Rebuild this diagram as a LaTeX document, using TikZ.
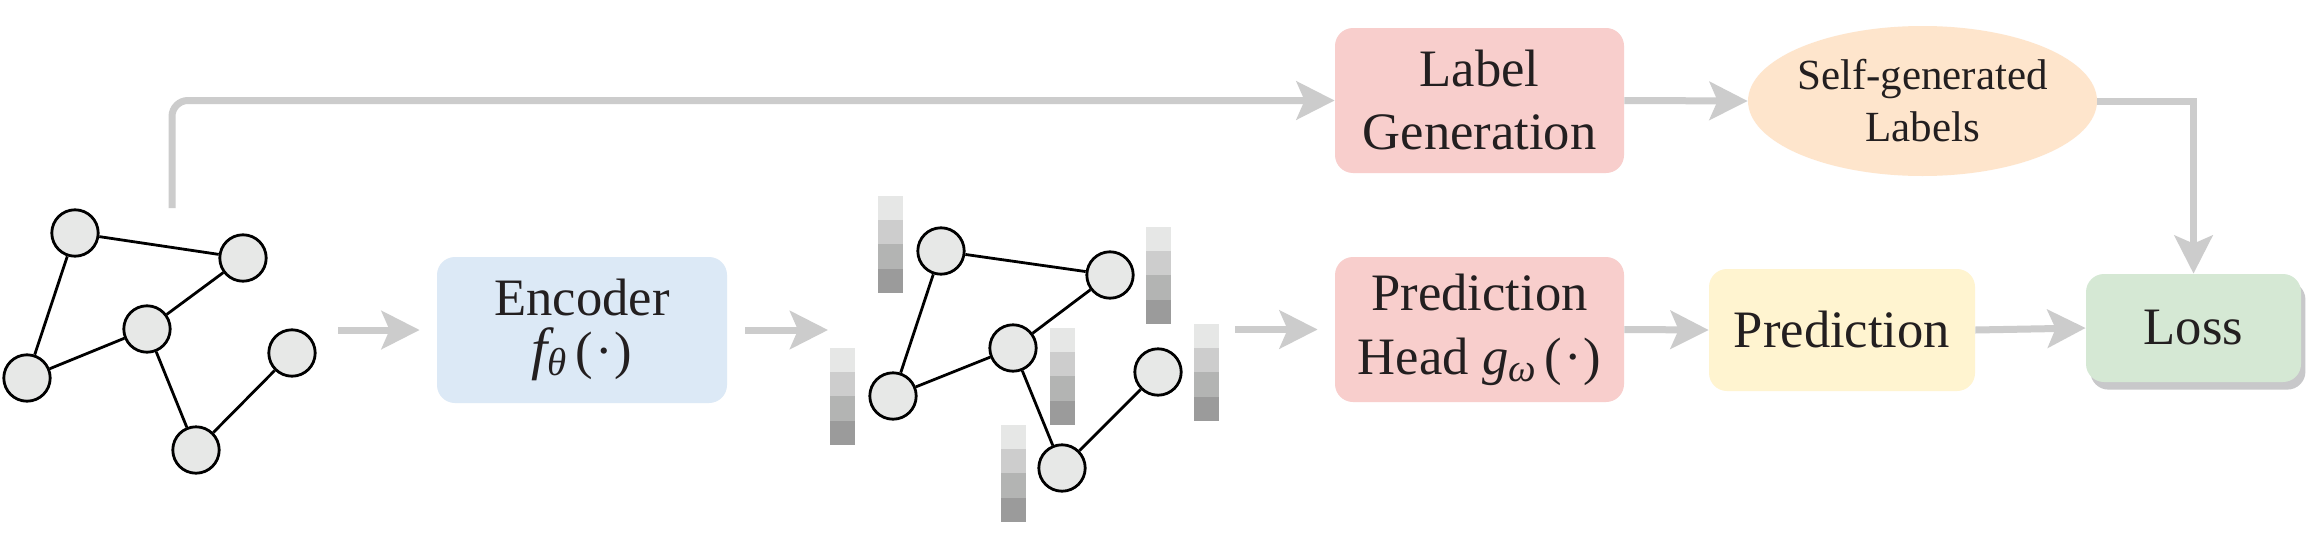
\documentclass[tikz,border=0pt]{standalone}
\usepackage{fontspec}
\setmainfont{Liberation Serif}
\usetikzlibrary{arrows.meta,shapes.geometric,shadows}
\definecolor{flowgray}{HTML}{CCCCCC}
\definecolor{encblue}{HTML}{DCE9F6}
\definecolor{boxpink}{HTML}{F8CECC}
\definecolor{ellorange}{HTML}{FEE5CC}
\definecolor{predyellow}{HTML}{FFF4D0}
\definecolor{lossgreen}{HTML}{D5E8D4}
\definecolor{shadowgray}{HTML}{C8C8CA}
\definecolor{nodegray}{HTML}{E7E8E7}
\definecolor{txt}{HTML}{231F20}
\definecolor{fbA}{HTML}{E6E7E6}
\definecolor{fbB}{HTML}{CDCDCD}
\definecolor{fbC}{HTML}{B3B4B3}
\definecolor{fbD}{HTML}{9B9B9B}
\newcommand{\gsub}[1]{\raisebox{-0.3ex}{\fontsize{19.5}{19.5}\selectfont\itshape #1}}
\newcommand{\featbar}[2]{%
  \fill[fbA] (#1,#2) rectangle ++(25,24.2);
  \fill[fbB] (#1,#2+24.2) rectangle ++(25,24.2);
  \fill[fbC] (#1,#2+48.4) rectangle ++(25,24.2);
  \fill[fbD] (#1,#2+72.6) rectangle ++(25,24.2);}
\tikzset{
  flow/.style={draw=flowgray, line width=3.5pt, -{Stealth[length=19pt,width=19pt,inset=4pt]}},
  procbox/.style={rounded corners=9pt, inner sep=0pt, align=center, text=txt,
    font=\fontsize{26.3}{31.5}\selectfont},
  gnode/.style={circle, draw=black, fill=nodegray, line width=1.4pt, minimum size=23.2pt, inner sep=0pt},
  gedge/.style={draw=black, line width=1.4pt},
}
\begin{document}
\begin{tikzpicture}[x=0.5pt,y=-0.5pt]
\useasboundingbox (0,0) rectangle (2310,546);
\fill[white] (0,0) rectangle (2310,546);

% input graph
\node[gnode] (ga) at (75,233) {};
\node[gnode] (gb) at (243,258) {};
\node[gnode] (gc) at (147,329) {};
\node[gnode] (gd) at (27,378) {};
\node[gnode] (ge) at (292,353) {};
\node[gnode] (gf) at (196,450) {};
\draw[gedge] (ga) -- (gb);
\draw[gedge] (ga) -- (gd);
\draw[gedge] (gb) -- (gc);
\draw[gedge] (gc) -- (gd);
\draw[gedge] (gc) -- (gf);
\draw[gedge] (gf) -- (ge);

% feature bars
\featbar{878}{196}
\featbar{1146}{227}
\featbar{1050}{328}
\featbar{1194}{324}
\featbar{830}{348}
\featbar{1001}{425}

% embedded graph
\node[gnode] (ha) at (941,251) {};
\node[gnode] (hb) at (1110,275) {};
\node[gnode] (hc) at (1013,348) {};
\node[gnode] (hd) at (893,396) {};
\node[gnode] (he) at (1158,372) {};
\node[gnode] (hf) at (1062,468) {};
\draw[gedge] (ha) -- (hb);
\draw[gedge] (ha) -- (hd);
\draw[gedge] (hb) -- (hc);
\draw[gedge] (hc) -- (hd);
\draw[gedge] (hc) -- (hf);
\draw[gedge] (hf) -- (he);

% boxes
\node[procbox, fill=encblue, minimum width=145pt, minimum height=73pt,
  font=\fontsize{26.3}{26.5}\selectfont] (enc) at (582,330)
  {Encoder\\{\fontsize{29}{29}\selectfont\itshape f}\gsub{θ}\,(\kern1pt·\kern1pt)};
\node[procbox, fill=boxpink, minimum width=144.5pt, minimum height=72.5pt] (lg) at (1479.5,100.5)
  {Label\\Generation};
\node[procbox, fill=boxpink, minimum width=144.5pt, minimum height=72.5pt,
  font=\fontsize{26.3}{32}\selectfont] (ph) at (1479.5,329.5)
  {Prediction\\Head {\itshape g}\gsub{ω}\,(\kern1pt·\kern1pt)};
\node[ellipse, fill=ellorange, inner sep=0pt, minimum width=174.5pt, minimum height=75pt,
  align=center, text=txt, font=\fontsize{21.5}{26}\selectfont] (sgl) at (1922.5,101)
  {\makebox[100pt][c]{Self-generated}\\\makebox[100pt][c]{Labels}};
\node[procbox, fill=predyellow, minimum width=133pt, minimum height=61pt] (pred) at (1842,330)
  {Prediction};
\node[procbox, fill=lossgreen, minimum width=107.5pt, minimum height=54pt,
  drop shadow={shadow xshift=2.2pt, shadow yshift=-3.8pt, fill=shadowgray, opacity=1}] (loss) at (2193.5,328)
  {Loss};

% connectors
\coordinate (topstart) at (172,208);
\coordinate (g1out) at (338,330);
\coordinate (g2in) at (828,330);
\coordinate (g2out) at (1235,329.5);
\draw[flow, rounded corners=8pt] (topstart) |- (lg.west);
\draw[flow, shorten >=8.5pt] (g1out) -- (enc.west);
\draw[flow, shorten <=9pt] (enc.east) -- (g2in);
\draw[flow, shorten >=8.5pt] (g2out) -- (ph.west);
\draw[flow] (lg.east) -- (sgl.west);
\draw[flow] (sgl.east) -| (loss.north);
\draw[flow] (ph.east) -- (pred.west);
\draw[flow] (pred.east) -- (loss.west);
\end{tikzpicture}
\end{document}
